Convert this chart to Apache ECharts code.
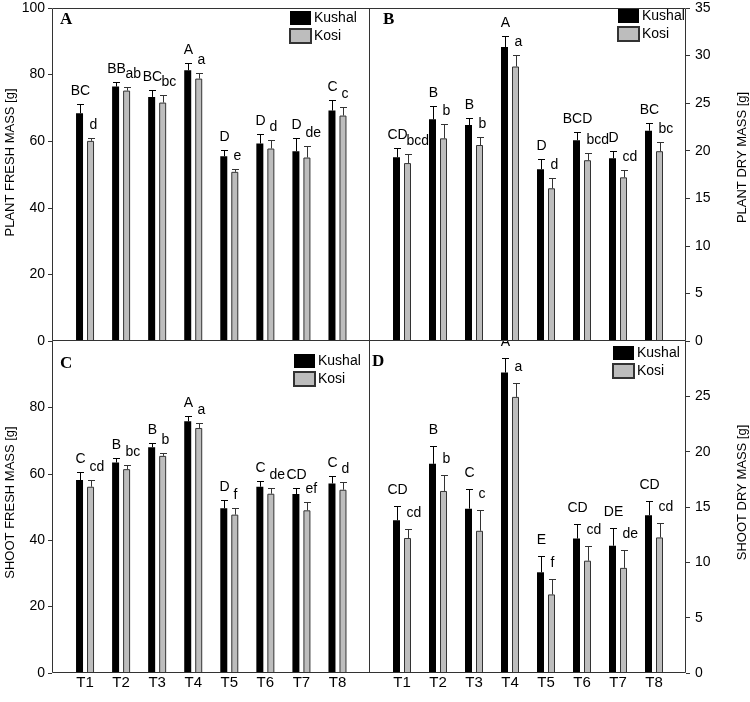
<!DOCTYPE html>
<html>
<head>
<meta charset="utf-8">
<script src="https://cdn.jsdelivr.net/npm/echarts@6/dist/echarts.min.js"></script>
<style>
html,body{margin:0;padding:0;background:#fff;}
#chart{width:750px;height:702px;}
</style>
</head>
<body>
<div id="chart"></div>
<script>
var categories=['T1','T2','T3','T4','T5','T6','T7','T8'];

// A 植株鲜重
var plantFreshKushal=[68.4,76.4,73.3,81.3,55.5,59.3,57.0,69.2];
var plantFreshKushalErr=[2.7,1.3,2.1,2.1,1.9,3.0,4.0,3.1];
var plantFreshKosi=[60.1,75.2,71.6,78.8,50.8,57.8,55.1,67.7];
var plantFreshKosiErr=[1.0,1.0,2.2,1.6,0.8,2.7,3.5,2.5];
var plantFreshKushalLetters=['BC','BB','BC','A','D','D','D','C'];
var plantFreshKosiLetters=['d','ab','bc','a','e','d','de','c'];

// B 植株干重
var plantDryKushal=[19.3,23.3,22.7,30.9,18.05,21.1,19.2,22.1];
var plantDryKushalErr=[1.0,1.45,0.75,1.15,1.05,0.85,0.8,0.85];
var plantDryKosi=[18.7,21.3,20.6,28.85,16.05,19.0,17.2,19.95];
var plantDryKosiErr=[0.95,1.5,0.8,1.2,1.05,0.75,0.75,1.0];
var plantDryKushalLetters=['CD','B','B','A','D','BCD','D','BC'];
var plantDryKosiLetters=['bcd','b','b','a','d','bcd','cd','bc'];

// C 地上部鲜重
var shootFreshKushal=[58.1,63.4,68.0,75.8,49.6,56.1,53.9,57.1];
var shootFreshKushalErr=[2.3,1.3,1.2,1.7,2.4,1.8,1.9,2.3];
var shootFreshKosi=[56.1,61.4,65.4,73.8,47.7,54.0,49.0,55.2];
var shootFreshKosiErr=[2.1,1.4,1.0,1.5,2.1,1.7,2.4,2.4];
var shootFreshKushalLetters=['C','B','B','A','D','C','CD','C'];
var shootFreshKosiLetters=['cd','bc','b','a','f','de','ef','d'];

// D 地上部干重
var shootDryKushal=[13.8,18.9,14.85,27.15,9.1,12.15,11.5,14.25];
var shootDryKushalErr=[1.25,1.6,1.8,1.35,1.45,1.3,1.6,1.25];
var shootDryKosi=[12.2,16.45,12.85,24.95,7.1,10.15,9.5,12.25];
var shootDryKosiErr=[0.85,1.4,1.85,1.3,1.4,1.3,1.65,1.3];
var shootDryKushalLetters=['CD','B','C','A','E','CD','DE','CD'];
var shootDryKosiLetters=['cd','b','c','a','f','cd','de','cd'];

var FONT='"Liberation Sans", Arial, sans-serif';
var BAR_W=7;
var BAR_GAP_PX=4;
var BAR_SHIFT=(BAR_W+BAR_GAP_PX)/2;

var panels=[
  {tag:'A',grid:{left:67,top:8,width:288.5,height:333},side:'left',offset:15,max:100,interval:20,hideMax:false,
   name:'PLANT FRESH MASS [g]',nameGap:35,namePad:24,labelMargin:7,showX:false,tagPos:[60,11],legendPos:[289,11],gap:8,
   kushal:plantFreshKushal,kushalErr:plantFreshKushalErr,kosi:plantFreshKosi,kosiErr:plantFreshKosiErr,
   kushalLetters:plantFreshKushalLetters,kosiLetters:plantFreshKosiLetters},
  {tag:'B',grid:{left:384,top:8,width:288,height:333},side:'right',offset:14,max:35,interval:5,hideMax:false,
   name:'PLANT DRY MASS [g]',nameGap:50,namePad:34,labelMargin:9,showX:false,tagPos:[383,11],legendPos:[617,9],gap:8,
   kushal:plantDryKushal,kushalErr:plantDryKushalErr,kosi:plantDryKosi,kosiErr:plantDryKosiErr,
   kushalLetters:plantDryKushalLetters,kosiLetters:plantDryKosiLetters},
  {tag:'C',grid:{left:67,top:341,width:288.5,height:332},side:'left',offset:15,max:100,interval:20,hideMax:true,
   name:'SHOOT FRESH MASS [g]',nameGap:35,namePad:9,labelMargin:7,showX:true,tagPos:[60,355],legendPos:[293,354],gap:8,
   kushal:shootFreshKushal,kushalErr:shootFreshKushalErr,kosi:shootFreshKosi,kosiErr:shootFreshKosiErr,
   kushalLetters:shootFreshKushalLetters,kosiLetters:shootFreshKosiLetters},
  {tag:'D',grid:{left:384,top:341,width:288,height:332},side:'right',offset:14,max:30,interval:5,hideMax:true,
   name:'SHOOT DRY MASS [g]',nameGap:50,namePad:29,labelMargin:9,showX:true,tagPos:[372,353],legendPos:[612,346],gap:11,
   kushal:shootDryKushal,kushalErr:shootDryKushalErr,kosi:shootDryKosi,kosiErr:shootDryKosiErr,
   kushalLetters:shootDryKushalLetters,kosiLetters:shootDryKosiLetters}
];

// 误差线 + 显著性字母
function errorSeries(gridIdx,means,errs,letters,side,color,gap){
  var data=means.map(function(v,i){return [i,v,v+errs[i]];});
  return {
    type:'custom',
    name:'err'+gridIdx+side,
    xAxisIndex:gridIdx,
    yAxisIndex:gridIdx,
    silent:true,
    z:5,
    data:data,
    encode:{x:0,y:[1,2]},
    renderItem:function(params,api){
      var i=api.value(0);
      var base=api.coord([i,api.value(1)]);
      var top=api.coord([i,api.value(2)]);
      var cx=Math.round(base[0]+side*BAR_SHIFT)+0.5;
      var ty=Math.round(top[1])+0.5;
      var upper=side<0;
      return {
        type:'group',
        children:[
          {type:'line',shape:{x1:cx,y1:base[1],x2:cx,y2:ty},style:{stroke:color,lineWidth:1}},
          {type:'line',shape:{x1:cx-BAR_W/2,y1:ty,x2:cx+BAR_W/2,y2:ty},style:{stroke:color,lineWidth:1}},
          {type:'text',style:{
            text:letters[params.dataIndex],
            x:upper?cx:cx-2,
            y:ty-gap+2,
            align:upper?'center':'left',
            verticalAlign:'bottom',
            fill:'#000',
            fontSize:14,
            fontFamily:FONT
          }}
        ]
      };
    }
  };
}

var grids=[],xAxes=[],yAxes=[],series=[],legends=[],graphics=[];
panels.forEach(function(p,idx){
  grids.push(p.grid);
  xAxes.push({
    type:'category',gridIndex:idx,data:categories,
    axisLine:{show:false},axisTick:{show:false},
    axisLabel:{show:p.showX,fontSize:15,color:'#000',fontFamily:FONT,margin:2}
  });
  yAxes.push({
    type:'value',gridIndex:idx,position:p.side,offset:p.offset,
    min:0,max:p.max,interval:p.interval,
    splitLine:{show:false},
    axisLine:{show:false},
    axisTick:{show:true,inside:false,length:4,lineStyle:{color:'#333'}},
    axisLabel:{fontSize:14,color:'#000',fontFamily:FONT,margin:p.labelMargin,
      formatter:function(v){return (p.hideMax&&v===p.max)?'':v;}},
    name:p.name,nameLocation:'middle',nameGap:p.nameGap,nameRotate:90,
    nameTextStyle:{fontSize:13,color:'#000',fontFamily:FONT,padding:[0,0,0,p.namePad]}
  });
  series.push({
    type:'bar',name:'Kushal',xAxisIndex:idx,yAxisIndex:idx,data:p.kushal,
    barWidth:BAR_W,barGap:(BAR_GAP_PX/BAR_W*100)+'%',
    itemStyle:{color:'#000'}
  });
  series.push({
    type:'bar',name:'Kosi',xAxisIndex:idx,yAxisIndex:idx,data:p.kosi,
    barWidth:BAR_W,barGap:(BAR_GAP_PX/BAR_W*100)+'%',
    itemStyle:{color:'#bdbdbd',borderColor:'#333',borderWidth:1}
  });
  series.push(errorSeries(idx,p.kushal,p.kushalErr,p.kushalLetters,-1,'#000',p.gap));
  series.push(errorSeries(idx,p.kosi,p.kosiErr,p.kosiLetters,1,'#333',p.gap));
  legends.push({
    data:['Kushal','Kosi'],orient:'vertical',left:p.legendPos[0],top:p.legendPos[1],
    itemWidth:21,itemHeight:14,itemGap:3,padding:0,icon:'rect',selectedMode:false,
    textStyle:{fontSize:14,color:'#000',fontFamily:FONT,padding:[0,0,0,-2]}
  });
  graphics.push({
    type:'text',left:p.tagPos[0],top:p.tagPos[1],
    style:{text:p.tag,fill:'#000',font:'bold 17px "Liberation Serif", "Times New Roman", serif'}
  });
});

// 外框和分隔线
var frameColor='#333';
[[52.5,8.5,685.5,8.5],[52.5,672.5,685.5,672.5],[52.5,340.5,685.5,340.5],
 [52.5,8.5,52.5,672.5],[685.5,8.5,685.5,672.5],[369.5,8.5,369.5,672.5]].forEach(function(l){
  graphics.push({type:'line',shape:{x1:l[0],y1:l[1],x2:l[2],y2:l[3]},style:{stroke:frameColor,lineWidth:1},z:10,silent:true});
});

var chart=echarts.init(document.getElementById('chart'));
chart.setOption({
  animation:false,
  backgroundColor:'#fff',
  grid:grids,
  xAxis:xAxes,
  yAxis:yAxes,
  legend:legends,
  series:series,
  graphic:graphics
});
</script>
</body>
</html>
